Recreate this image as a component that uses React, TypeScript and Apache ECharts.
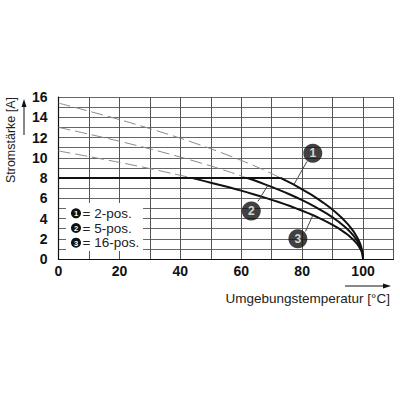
import React, { useEffect, useRef } from "react";
import * as echarts from "echarts";

const xTicks = [0, 20, 40, 60, 80, 100];
const yTicks = [0, 2, 4, 6, 8, 10, 12, 14, 16];

const flatLine: number[][] = [[0, 8], [73, 8]];
const curve2pos: number[][] = [[73, 8], [75, 7.7], [77, 7.39], [79, 7.06], [81, 6.71], [83, 6.35], [85, 5.96], [87, 5.55], [89, 5.11], [91, 4.62], [93, 4.07], [95, 3.44], [96, 3.08], [97, 2.67], [98, 2.18], [98.7, 1.76], [99.3, 1.29], [99.7, 0.84], [99.9, 0.49], [100, 0]];
const curve5pos: number[][] = [[62, 8], [64, 7.8], [66, 7.58], [68, 7.35], [70, 7.12], [72, 6.88], [74, 6.63], [76, 6.37], [78, 6.1], [80, 5.81], [82, 5.52], [84, 5.2], [86, 4.86], [88, 4.5], [90, 4.11], [92, 3.68], [94, 3.18], [95, 2.91], [96, 2.6], [97, 2.25], [98, 1.84], [98.7, 1.48], [99.3, 1.09], [99.7, 0.71], [99.9, 0.41], [100, 0]];
const curve16pos: number[][] = [[44, 8], [46, 7.84], [48, 7.69], [50, 7.54], [52, 7.39], [54, 7.24], [56, 7.08], [58, 6.92], [60, 6.75], [62, 6.58], [64, 6.4], [66, 6.22], [68, 6.04], [70, 5.84], [72, 5.65], [74, 5.44], [76, 5.23], [78, 5.0], [80, 4.77], [82, 4.53], [84, 4.27], [86, 3.99], [88, 3.7], [90, 3.37], [92, 3.02], [94, 2.61], [95, 2.39], [96, 2.13], [97, 1.85], [98, 1.51], [98.7, 1.22], [99.3, 0.89], [99.7, 0.58], [99.9, 0.34], [100, 0]];

const dashed2pos: number[][] = [[0, 15.4], [10, 14.6], [20, 13.77], [30, 12.88], [40, 11.93], [50, 10.89], [60, 9.74], [67, 8.85], [73, 8]];
const dashed5pos: number[][] = [[0, 13.0], [10, 12.33], [20, 11.63], [30, 10.88], [40, 10.07], [50, 9.19], [56, 8.62], [62, 8]];
const dashed16pos: number[][] = [[0, 10.67], [10, 10.12], [20, 9.54], [30, 8.93], [38, 8.4], [44, 8]];

const calloutLabels = ["1", "2", "3"];
const calloutPoints: number[][] = [[83.5, 10.45], [63.3, 4.75], [78.6, 2.0]];
const leaderLines: number[][][] = [
  [[81.6, 9.64], [77.3, 7.35]],
  [[65.5, 5.69], [68.8, 7.3]],
  [[81.1, 2.73], [83.5, 4.3]],
];

const legendLabels = ["= 2-pos.", "= 5-pos.", "= 16-pos."];

const FONT = "Liberation Sans, Arial, Helvetica, sans-serif";

export default function App() {
  const ref = useRef<HTMLDivElement>(null);
  useEffect(() => {
    if (!ref.current) return;
    const chart = echarts.init(ref.current, undefined, { renderer: "svg" });
    const solid = (data: number[][]) => ({
      type: "line",
      data,
      smooth: false,
      symbol: "none",
      lineStyle: { color: "#111", width: 2, join: "round" },
      z: 4,
    });
    const dashed = (data: number[][]) => ({
      type: "line",
      data,
      smooth: 0.3,
      symbol: "none",
      lineStyle: { color: "#8a8a8a", width: 1, type: [12, 5] },
      z: 3,
    });
    const leaders = leaderLines.map((seg) => ({
      type: "line",
      data: seg,
      symbol: "none",
      lineStyle: { color: "#444", width: 1 },
      z: 5,
    }));
    const legendGraphic: any[] = [
      { type: "rect", shape: { x: 66, y: 203, width: 77, height: 48 }, style: { fill: "#fff" }, z: 10 },
    ];
    legendLabels.forEach((t, i) => {
      const cy = 213.3 + i * 14.7;
      legendGraphic.push({ type: "circle", shape: { cx: 76, cy, r: 5 }, style: { fill: "#111" }, z: 11 });
      legendGraphic.push({
        type: "text", x: 76, y: cy + 0.5,
        style: { text: String(i + 1), fill: "#fff", font: `bold 7.5px ${FONT}`, textAlign: "center", textVerticalAlign: "middle" },
        z: 12,
      });
      legendGraphic.push({
        type: "text", x: 82.5, y: cy,
        style: { text: t, fill: "#222", font: `13.5px ${FONT}`, textAlign: "left", textVerticalAlign: "middle" },
        z: 12,
      });
    });
    chart.setOption({
      animation: false,
      backgroundColor: "#fff",
      grid: { left: 58.5, right: 6.5, top: 97, bottom: 141, containLabel: false },
      xAxis: {
        type: "value",
        min: 0,
        max: 110,
        interval: 10,
        axisLine: { show: true, lineStyle: { color: "#111", width: 1.2 } },
        axisTick: { show: false },
        splitLine: { show: true, lineStyle: { color: "#555", width: 1 } },
        axisLabel: {
          margin: 5,
          color: "#111",
          fontWeight: "bold",
          fontSize: 14,
          fontFamily: FONT,
          formatter: (v: number) => (xTicks.includes(v) ? String(v) : ""),
        },
      },
      yAxis: {
        type: "value",
        min: 0,
        max: 16,
        interval: 1,
        axisLine: { show: true, lineStyle: { color: "#111", width: 1.2 } },
        axisTick: { show: false },
        splitLine: { show: true, lineStyle: { color: "#666", width: 1 } },
        axisLabel: {
          margin: 11,
          color: "#111",
          fontWeight: "bold",
          fontSize: 14,
          fontFamily: FONT,
          formatter: (v: number) => (yTicks.includes(v) ? String(v) : ""),
        },
      },
      series: [
        dashed(dashed2pos),
        dashed(dashed5pos),
        dashed(dashed16pos),
        solid(flatLine),
        solid(curve2pos),
        solid(curve5pos),
        solid(curve16pos),
        ...leaders,
        {
          type: "scatter",
          data: calloutPoints.map((p, i) => ({ value: p, name: calloutLabels[i] })),
          symbol: "circle",
          symbolSize: 19,
          itemStyle: { color: "#111" },
          label: {
            show: true,
            position: "inside",
            formatter: (p: any) => p.name,
            color: "#fff",
            fontSize: 12,
            fontWeight: "bold",
            fontFamily: FONT,
          },
          z: 6,
        },
      ],
      graphic: [
        ...legendGraphic,
        {
          type: "text", x: 10.5, y: 140, rotation: Math.PI / 2,
          style: { text: "Stromstärke [A]", fill: "#222", font: `12.5px ${FONT}`, textAlign: "center", textVerticalAlign: "middle" },
        },
        { type: "line", shape: { x1: 24, y1: 135, x2: 24, y2: 106 }, style: { stroke: "#111", lineWidth: 1 } },
        { type: "polygon", shape: { points: [[24, 99], [21.5, 107], [26.5, 107]] }, style: { fill: "#111" } },
        {
          type: "text", x: 390, y: 298,
          style: { text: "Umgebungstemperatur [°C]", fill: "#222", font: `13.5px ${FONT}`, textAlign: "right", textVerticalAlign: "middle" },
        },
        { type: "line", shape: { x1: 345, y1: 286, x2: 384, y2: 286 }, style: { stroke: "#111", lineWidth: 1 } },
        { type: "polygon", shape: { points: [[391, 286], [383, 283.5], [383, 288.5]] }, style: { fill: "#111" } },
      ],
    });
    return () => chart.dispose();
  }, []);
  return <div ref={ref} style={{ position: "fixed", left: 0, top: 0, width: 400, height: 400 }} />;
}
